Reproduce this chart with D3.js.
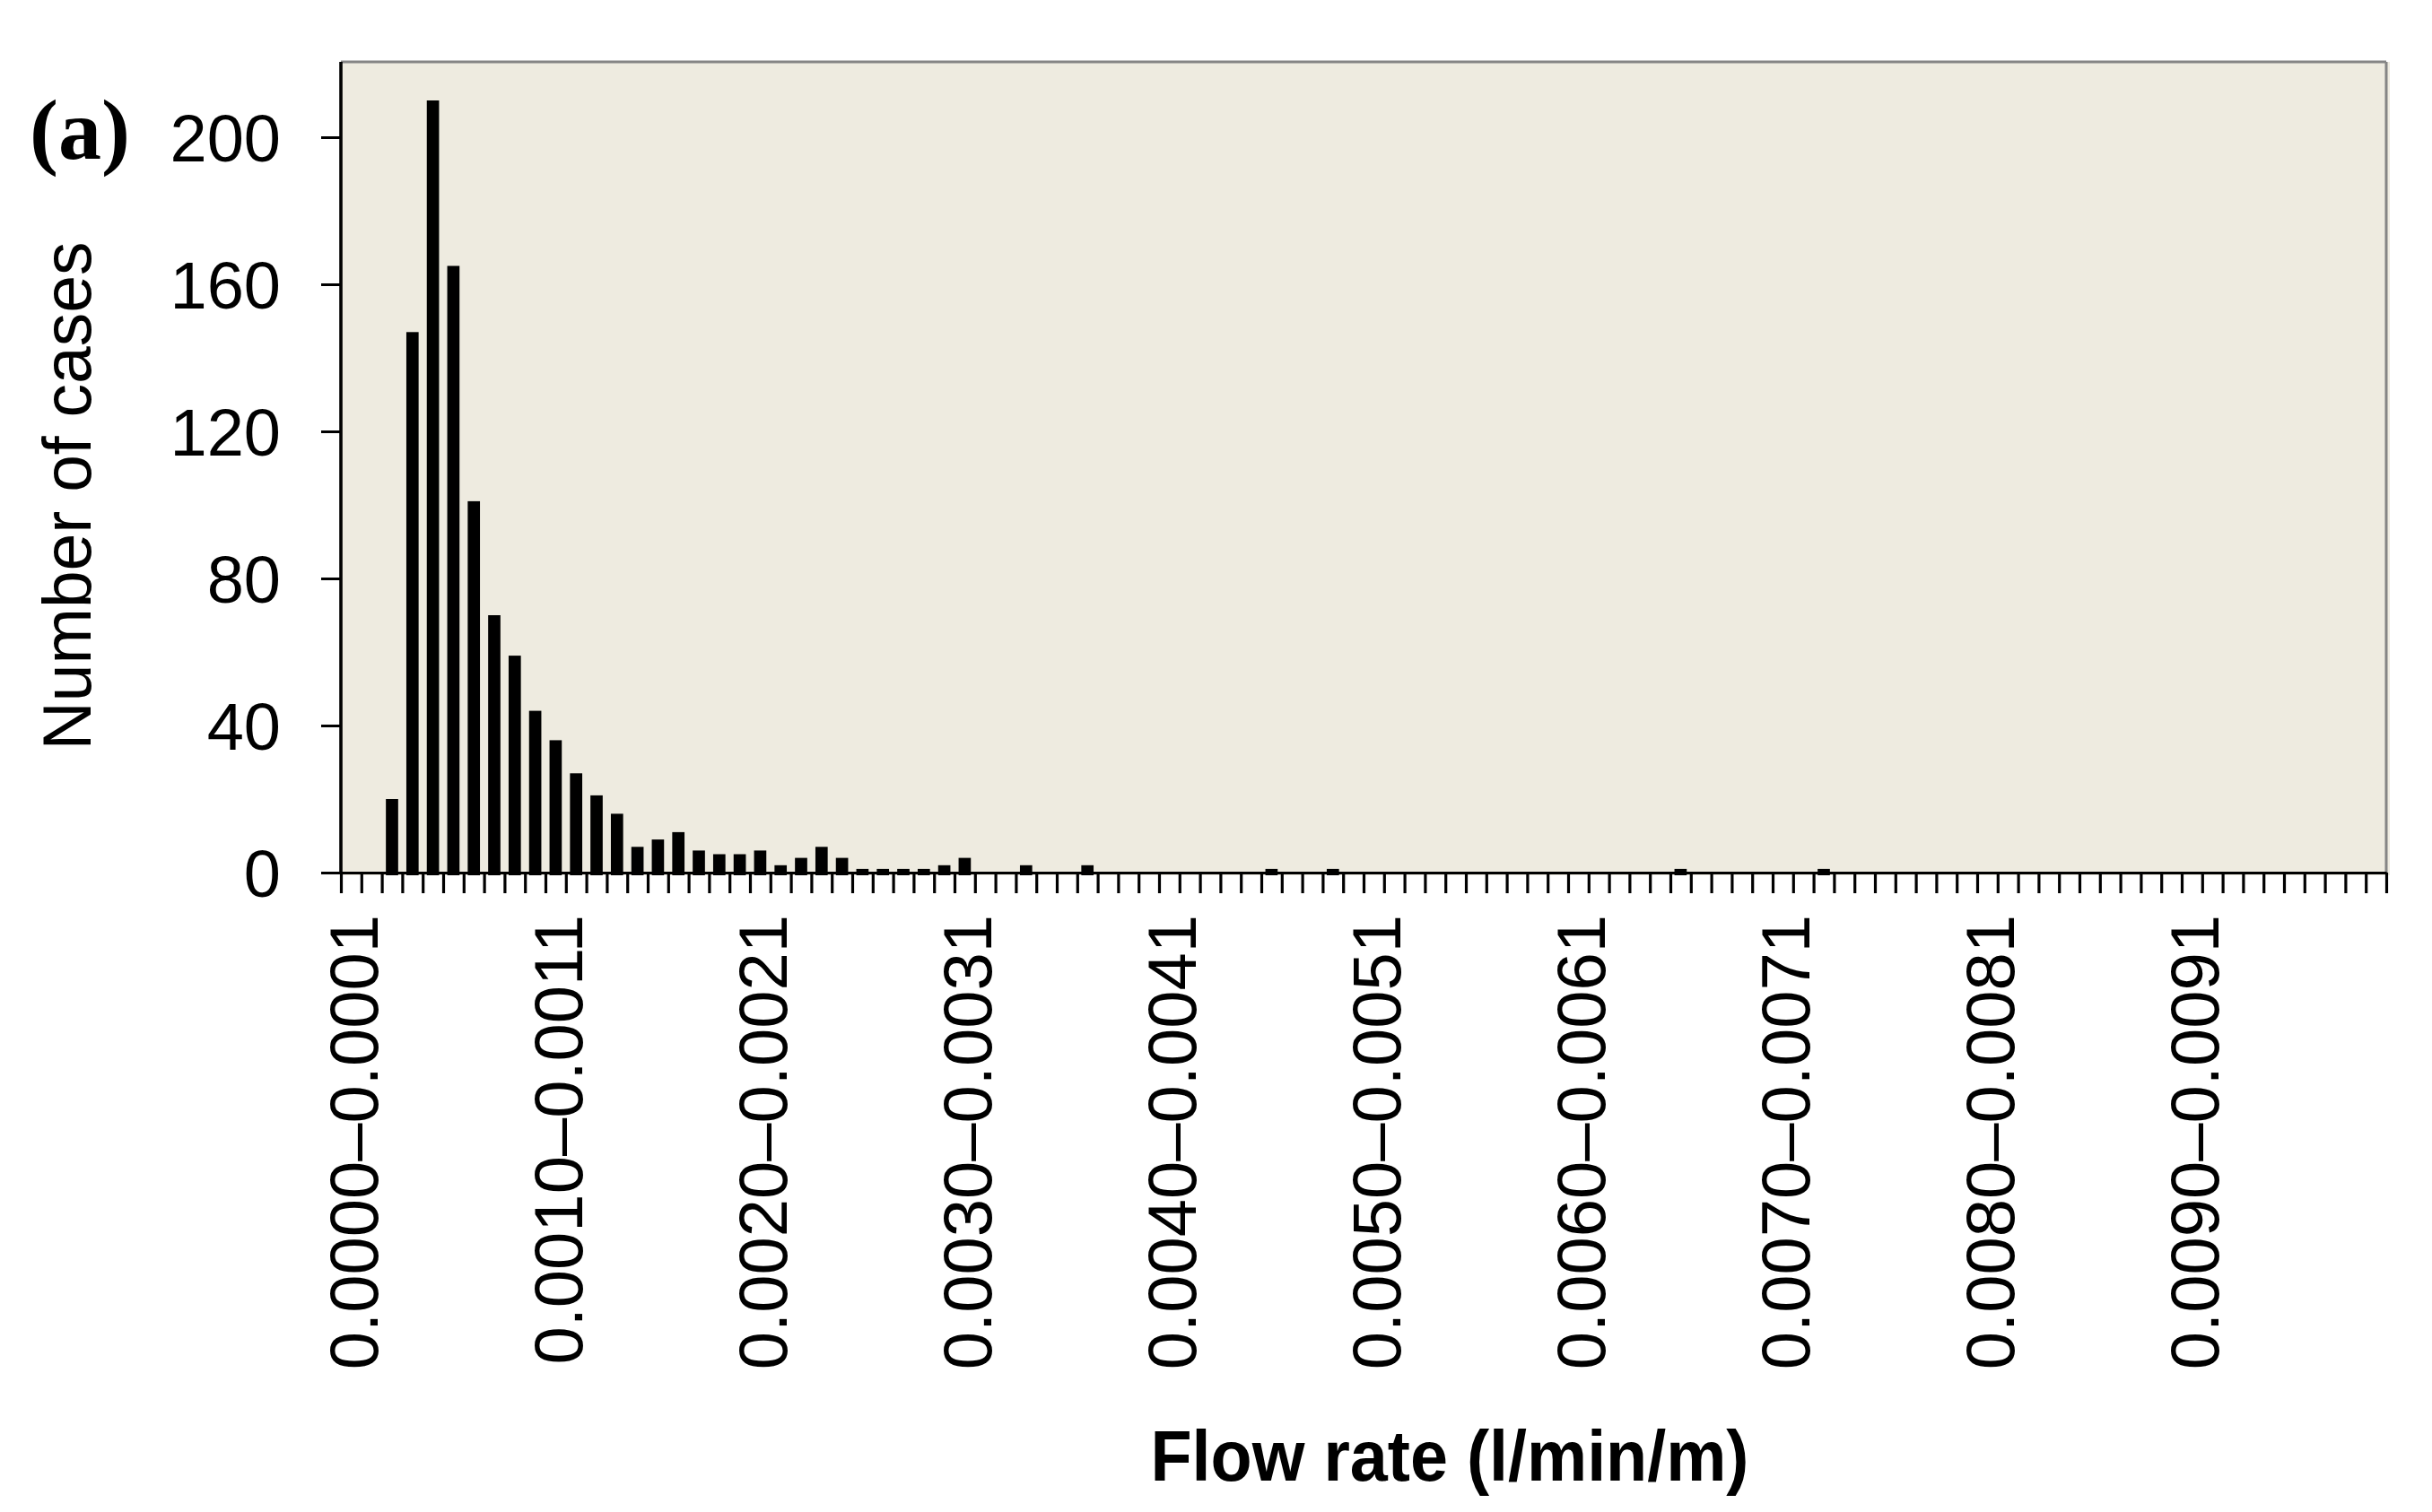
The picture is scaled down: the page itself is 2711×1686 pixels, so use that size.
<!DOCTYPE html>
<html>
<head>
<meta charset="utf-8">
<script src="https://cdn.jsdelivr.net/npm/d3@7/dist/d3.min.js"></script>
<style>
  html, body { margin: 0; padding: 0; background: #ffffff; }
  svg { display: block; }
</style>
</head>
<body>
<svg id="chart" width="2711" height="1686"></svg>
<script>
// ---- data ----
const binWidth = 0.0001;
const nBins = 100;
const categories = d3.range(nBins).map(i =>
  (i * binWidth).toFixed(4) + "\u2013" + ((i + 1) * binWidth).toFixed(4));

const counts = [
  0, 0, 20, 147, 210, 165, 101, 70, 59, 44,
  36, 27, 21, 16, 7, 9, 11, 6, 5, 5,
  6, 2, 4, 7, 4, 1, 1, 1, 1, 2,
  4, 0, 0, 2, 0, 0, 2, 0, 0, 0,
  0, 0, 0, 0, 0, 1, 0, 0, 1, 0,
  0, 0, 0, 0, 0, 0, 0, 0, 0, 0,
  0, 0, 0, 0, 0, 1, 0, 0, 0, 0,
  0, 0, 1, 0, 0, 0, 0, 0, 0, 0,
  0, 0, 0, 0, 0, 0, 0, 0, 0, 0,
  0, 0, 0, 0, 0, 0, 0, 0, 0, 0
];

const tickLabels = ["0.0000\u20130.0001", "0.0010\u20130.0011", "0.0020\u20130.0021",
  "0.0030\u20130.0031", "0.0040\u20130.0041", "0.0050\u20130.0051", "0.0060\u20130.0061",
  "0.0070\u20130.0071", "0.0080\u20130.0081", "0.0090\u20130.0091"];
const yTicks = [0, 40, 80, 120, 160, 200];

const yTitle = "Number of cases";
const xTitle = "Flow rate (l/min/m)";
const panelLabel = "(a)";

// ---- layout ----
const L = 380, R = 2660, T = 69, B = 973;
const svg = d3.select("#chart");

const x = d3.scaleBand().domain(categories).range([L, R]).paddingInner(0.4).paddingOuter(0.2);
const xEdge = d3.scaleLinear().domain([0, nBins]).range([L, R]);
const y = d3.scaleLinear().domain([0, 220]).range([B, T + 2]);

// plot background
svg.append("rect")
  .attr("x", L).attr("y", T).attr("width", R - L + 4).attr("height", B - T + 3)
  .attr("fill", "#EEEBE0");

// top and right border (gray)
svg.append("line").attr("x1", L).attr("x2", R).attr("y1", T).attr("y2", T)
  .attr("stroke", "#858585").attr("stroke-width", 3);
svg.append("line").attr("x1", R).attr("x2", R).attr("y1", T).attr("y2", B)
  .attr("stroke", "#858585").attr("stroke-width", 3);

// bars
svg.append("g").selectAll("rect")
  .data(categories.map((c, i) => ({ c, v: counts[i] })).filter(d => d.v > 0))
  .join("rect")
  .attr("x", d => x(d.c))
  .attr("width", x.bandwidth())
  .attr("y", d => y(d.v))
  .attr("height", d => B + 3 - y(d.v))
  .attr("fill", "#000");

// x axis ticks at every bin edge
const xAxis = d3.axisBottom(xEdge).tickValues(d3.range(0, nBins + 1)).tickFormat("")
  .tickSizeInner(23).tickSizeOuter(0);
const gx = svg.append("g").attr("transform", `translate(0,${B})`).call(xAxis);
gx.select(".domain").attr("stroke", "#000").attr("stroke-width", 3.2);
gx.selectAll(".tick line").attr("stroke", "#000").attr("stroke-width", 3.2);

// x tick labels (rotated)
svg.append("g").selectAll("text")
  .data(tickLabels)
  .join("text")
  .attr("transform", d => `translate(${x(d) + x.bandwidth() / 2 + 2},1020) rotate(-90)`)
  .attr("text-anchor", "end")
  .attr("dy", "0.36em")
  .attr("font-family", "Liberation Sans, Arial, sans-serif")
  .attr("font-size", 76)
  .attr("fill", "#000")
  .text(d => d);

// y axis
const yAxis = d3.axisLeft(y).tickValues(yTicks).tickSizeInner(22).tickSizeOuter(0)
  .tickPadding(45).tickFormat(d3.format("d"));
const gy = svg.append("g").attr("transform", `translate(${L},0)`).call(yAxis);
gy.select(".domain").attr("stroke", "#000").attr("stroke-width", 3.6)
  .attr("d", `M0,${T}V${B + 1}`);
gy.selectAll(".tick line").attr("stroke", "#000").attr("stroke-width", 3);
gy.selectAll(".tick text")
  .attr("font-family", "Liberation Sans, Arial, sans-serif")
  .attr("font-size", 74)
  .attr("fill", "#000")
  .attr("dy", "0.36em");

// titles
svg.append("text")
  .attr("transform", "translate(101,553) rotate(-90)")
  .attr("text-anchor", "middle")
  .attr("font-family", "Liberation Sans, Arial, sans-serif")
  .attr("font-size", 76)
  .attr("textLength", 567).attr("lengthAdjust", "spacingAndGlyphs")
  .attr("fill", "#000")
  .text(yTitle);

svg.append("text")
  .attr("x", 1616).attr("y", 1651)
  .attr("text-anchor", "middle")
  .attr("font-family", "Liberation Sans, Arial, sans-serif")
  .attr("font-weight", "bold")
  .attr("font-size", 79)
  .attr("textLength", 667).attr("lengthAdjust", "spacingAndGlyphs")
  .attr("fill", "#000")
  .text(xTitle);

svg.append("text")
  .attr("x", 33).attr("y", 177)
  .attr("font-family", "Liberation Serif, Times New Roman, serif")
  .attr("font-weight", "bold")
  .attr("font-size", 96)
  .attr("fill", "#000")
  .text(panelLabel);
</script>
</body>
</html>
